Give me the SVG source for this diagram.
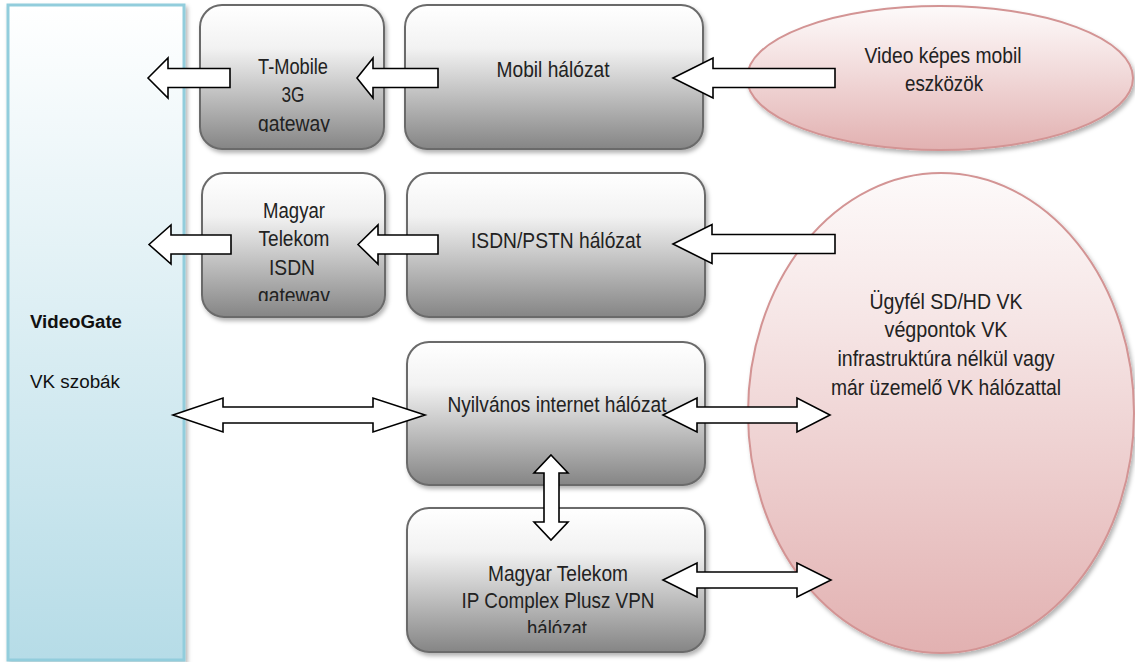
<svg xmlns="http://www.w3.org/2000/svg" width="1135" height="662" viewBox="0 0 1135 662">
<style>
.box{stroke:#6b6b6b;stroke-width:2;fill:url(#gBox);filter:url(#sh)}
.ell{stroke:#d39494;stroke-width:2;fill:url(#gEll);filter:url(#sh)}
.t{font-family:"Liberation Sans",Arial,sans-serif;font-size:22px;fill:#222;text-anchor:middle}
.vg{font-family:"Liberation Sans",Arial,sans-serif;font-size:18px;fill:#111}
.arr{fill:#fff;stroke:#000;stroke-width:1.6;stroke-linejoin:miter}
</style>
<defs>
<linearGradient id="gBox" x1="0" y1="0" x2="0" y2="1">
<stop offset="0" stop-color="#ffffff"/>
<stop offset="0.3" stop-color="#f2f2f2"/>
<stop offset="1" stop-color="#858585"/>
</linearGradient>
<linearGradient id="gEll" x1="0" y1="0" x2="0" y2="1">
<stop offset="0" stop-color="#fdfafa"/>
<stop offset="0.3" stop-color="#f6e6e6"/>
<stop offset="1" stop-color="#e2b1b1"/>
</linearGradient>
<linearGradient id="gVG" x1="0" y1="0" x2="0" y2="1">
<stop offset="0" stop-color="#ffffff"/>
<stop offset="1" stop-color="#b6dce7"/>
</linearGradient>
<filter id="sh" x="-10%" y="-10%" width="125%" height="125%">
<feDropShadow dx="2" dy="3" stdDeviation="2" flood-color="#000" flood-opacity="0.3"/>
</filter>
<clipPath id="c1"><rect x="200" y="5" width="184" height="127"/></clipPath>
<clipPath id="c2"><rect x="202" y="173" width="183" height="128"/></clipPath>
<clipPath id="c3"><rect x="407" y="508" width="298" height="125"/></clipPath>
</defs>

<g id="videogate">
<rect x="8" y="5" width="176" height="655" fill="url(#gVG)" stroke="#92cddc" stroke-width="3" filter="url(#sh)"/>
<text class="vg" x="30" y="328" font-weight="bold" textLength="92" lengthAdjust="spacingAndGlyphs">VideoGate</text>
<text class="vg" x="30" y="388" textLength="90" lengthAdjust="spacingAndGlyphs">VK szobák</text>
</g>

<g id="tmobile">
<rect class="box" x="200" y="5" width="184" height="144" rx="22"/>
<g clip-path="url(#c1)">
<text class="t" x="293" y="74" textLength="70" lengthAdjust="spacingAndGlyphs">T-Mobile</text>
<text class="t" x="293" y="102" textLength="23" lengthAdjust="spacingAndGlyphs">3G</text>
<text class="t" x="294" y="131" textLength="72" lengthAdjust="spacingAndGlyphs">gateway</text>
</g>
</g>

<g id="mobil">
<rect class="box" x="405" y="5" width="298" height="144" rx="22"/>
<text class="t" x="553" y="77" textLength="113" lengthAdjust="spacingAndGlyphs">Mobil hálózat</text>
</g>

<g id="mobileszk">
<ellipse class="ell" cx="940" cy="78" rx="193" ry="72"/>
<text class="t" x="943" y="63" textLength="157" lengthAdjust="spacingAndGlyphs">Video képes mobil</text>
<text class="t" x="944" y="91" textLength="78" lengthAdjust="spacingAndGlyphs">eszközök</text>
</g>

<g id="mtisdn">
<rect class="box" x="202" y="173" width="183" height="144" rx="22"/>
<g clip-path="url(#c2)">
<text class="t" x="294" y="218" textLength="62" lengthAdjust="spacingAndGlyphs">Magyar</text>
<text class="t" x="294" y="246" textLength="71" lengthAdjust="spacingAndGlyphs">Telekom</text>
<text class="t" x="292" y="275" textLength="46" lengthAdjust="spacingAndGlyphs">ISDN</text>
<text class="t" x="294" y="303" textLength="72" lengthAdjust="spacingAndGlyphs">gateway</text>
</g>
</g>

<g id="isdnpstn">
<rect class="box" x="407" y="173" width="298" height="144" rx="22"/>
<text class="t" x="556" y="248" textLength="170" lengthAdjust="spacingAndGlyphs">ISDN/PSTN hálózat</text>
</g>

<g id="ugyfel">
<ellipse class="ell" cx="941" cy="413" rx="193" ry="240"/>
<text class="t" x="946" y="309" textLength="153" lengthAdjust="spacingAndGlyphs">Ügyfél SD/HD VK</text>
<text class="t" x="946" y="337" textLength="123" lengthAdjust="spacingAndGlyphs">végpontok VK</text>
<text class="t" x="946" y="366" textLength="217" lengthAdjust="spacingAndGlyphs">infrastruktúra nélkül vagy</text>
<text class="t" x="946" y="395" textLength="230" lengthAdjust="spacingAndGlyphs">már üzemelő VK hálózattal</text>
</g>

<g id="internet">
<rect class="box" x="407" y="342" width="298" height="143" rx="22"/>
<text class="t" x="557" y="412" textLength="219" lengthAdjust="spacingAndGlyphs">Nyilvános  internet hálózat</text>
</g>

<g id="ipcomplex">
<rect class="box" x="407" y="508" width="298" height="144" rx="22"/>
<g clip-path="url(#c3)">
<text class="t" x="558" y="581" textLength="140" lengthAdjust="spacingAndGlyphs">Magyar Telekom</text>
<text class="t" x="558" y="608" textLength="193" lengthAdjust="spacingAndGlyphs">IP Complex  Plusz VPN</text>
<text class="t" x="557" y="636" textLength="60" lengthAdjust="spacingAndGlyphs">hálózat</text>
</g>
</g>

<g id="connectors">
<polygon class="arr" points="673,78 713,58 713,68.5 835,68.5 835,87.5 713,87.5 713,98"/>
<polygon class="arr" points="357,78 373,58 373,68.5 438,68.5 438,87.5 373,87.5 373,98"/>
<polygon class="arr" points="148,78 168,58 168,68.5 230,68.5 230,87.5 168,87.5 168,98"/>
<polygon class="arr" points="673,244 712,224.5 712,234.5 835,234.5 835,253.5 712,253.5 712,263.5"/>
<polygon class="arr" points="358,244.5 378,225 378,235 438,235 438,254 378,254 378,264"/>
<polygon class="arr" points="149,244.5 171,225 171,235 231,235 231,254 171,254 171,264"/>
<polygon class="arr" points="173,415 223,398 223,407 373,407 373,398 425,415 373,432 373,423 223,423 223,432"/>
<polygon class="arr" points="663,415 697,398 697,407 797,407 797,398 830,415 797,432 797,423 697,423 697,432"/>
<polygon class="arr" points="551,455 568,473 559,473 559,522 568,522 551,540 534,522 544,522 544,473 534,473"/>
<polygon class="arr" points="663,580 697,563 697,572 797,572 797,563 831,580 797,597 797,588 697,588 697,597"/>
</g>
</svg>
